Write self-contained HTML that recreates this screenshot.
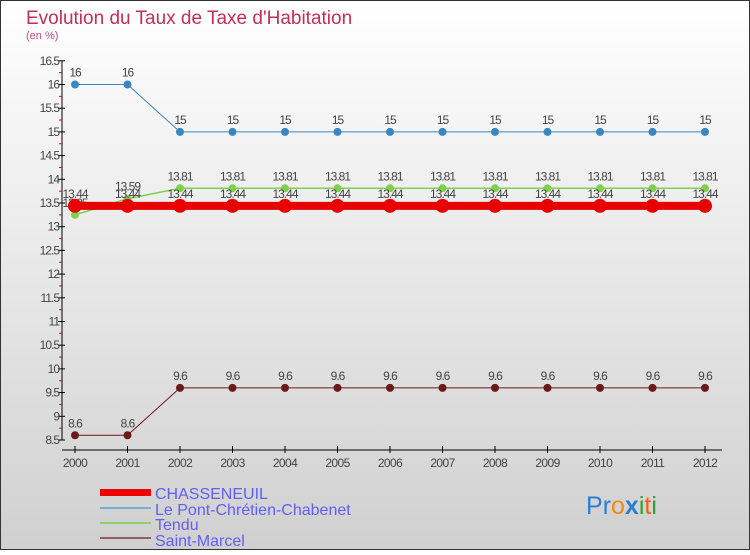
<!DOCTYPE html>
<html><head><meta charset="utf-8"><style>
body{margin:0;width:750px;height:550px;overflow:hidden;font-family:"Liberation Sans",sans-serif}
</style></head><body>
<svg id="c" width="750" height="550" xmlns="http://www.w3.org/2000/svg">
<defs><linearGradient id="bg" x1="0" y1="0" x2="0" y2="1"><stop offset="0" stop-color="#ffffff"/><stop offset="1" stop-color="#d0d0d0"/></linearGradient></defs>
<rect x="0.5" y="0.5" width="749" height="549" fill="url(#bg)" stroke="#333"/>
<text x="26" y="24" font-size="19" fill="#c0305a">Evolution du Taux de Taxe d'Habitation</text>
<text x="26" y="39" font-size="11" fill="#c0507a">(en %)</text>
<g id="axes"></g><g id="series"></g>
<g>
<rect x="100" y="489" width="51" height="7" fill="#e00"/>
<text x="155" y="499" font-size="16" fill="#6060f0">CHASSENEUIL</text>
<rect x="100" y="507" width="51" height="2" fill="#7aaed0"/>
<text x="155" y="515" font-size="16" fill="#6060f0">Le Pont-Chrétien-Chabenet</text>
<rect x="100" y="522" width="51" height="2" fill="#90d070"/>
<text x="155" y="530" font-size="16" fill="#6060f0">Tendu</text>
<rect x="100" y="537" width="51" height="2" fill="#906060"/>
<text x="155" y="546" font-size="16" fill="#6060f0">Saint-Marcel</text>
</g>
<text x="586" y="514" font-size="25"><tspan fill="#2a7fd0">P</tspan><tspan fill="#2a7fd0">r</tspan><tspan fill="#f08a10">o</tspan><tspan fill="#2a7fd0" font-weight="bold">x</tspan><tspan fill="#30a030">i</tspan><tspan fill="#f06010">t</tspan><tspan fill="#30a030">i</tspan></text>
</svg>
<script>
const years=[2000,2001,2002,2003,2004,2005,2006,2007,2008,2009,2010,2011,2012];
const chasseneuil=[13.44,13.44,13.44,13.44,13.44,13.44,13.44,13.44,13.44,13.44,13.44,13.44,13.44];
const pont=[16,16,15,15,15,15,15,15,15,15,15,15,15];
const tendu=[13.25,13.59,13.81,13.81,13.81,13.81,13.81,13.81,13.81,13.81,13.81,13.81,13.81];
const saintMarcel=[8.6,8.6,9.6,9.6,9.6,9.6,9.6,9.6,9.6,9.6,9.6,9.6,9.6];
const yTicks=[8.5,9,9.5,10,10.5,11,11.5,12,12.5,13,13.5,14,14.5,15,15.5,16,16.5];
const NS="http://www.w3.org/2000/svg";
const X=i=>75+i*52.5;
const Y=v=>440-(v-8.5)*47.4;
function mk(tag,at,parent){const e=document.createElementNS(NS,tag);for(const k in at)e.setAttribute(k,at[k]);parent.appendChild(e);return e;}
const ax=document.getElementById('axes'),sg=document.getElementById('series');
let yl=mk('line',{x1:62,y1:Y(16.5),x2:62,y2:Y(8.5),stroke:'#000'},ax);


let xl=mk('line',{x1:62,y1:450,x2:722,y2:450,stroke:'#000'},ax);


yTicks.forEach((t,i)=>{
 mk('line',{x1:58,y1:Y(t),x2:65,y2:Y(t),stroke:'#000'},ax);
 if(i<yTicks.length-1)mk('line',{x1:59,y1:Y(t+0.25),x2:62,y2:Y(t+0.25),stroke:'#e00'},ax);
 const tx=mk('text',{x:59,y:Y(t)+4,'font-size':12,fill:'#444','text-anchor':'end','letter-spacing':'-1'},ax);
 tx.textContent=String(t);
 
 
});
years.forEach((y,i)=>{
 mk('line',{x1:X(i),y1:446,x2:X(i),y2:453,stroke:'#000'},ax);
 const tx=mk('text',{x:X(i),y:467,'font-size':12,fill:'#444','text-anchor':'middle','letter-spacing':'-0.6'},ax);
 tx.textContent=y;
 
 
});
function series(vals,color,lw,r,name,fmt){
 const g=mk('g',{},sg);
 
 
 mk('polyline',{points:vals.map((v,i)=>X(i)+','+Y(v)).join(' '),fill:'none',stroke:color,'stroke-width':lw},g);
 vals.forEach((v,i)=>{
  const c=mk('circle',{cx:X(i),cy:Y(v),r:r,fill:color},g);
  
  
  const t=mk('text',{x:X(i),y:Y(v)-8,'font-size':12,fill:'#444','text-anchor':'middle','letter-spacing':'-1'},g);
  t.textContent=fmt(v);
  
  
 });
}
const f=v=>String(v);
series(pont,'#3a86c0',1,4,'series-pont',f);
series(saintMarcel,'#6a1a1a',1,4,'series-saint-marcel',f);
series(tendu,'#80d050',1.5,4,'series-tendu',f);
series(chasseneuil,'#e80000',8,7,'series-chasseneuil',f);
</script>
</body></html>
